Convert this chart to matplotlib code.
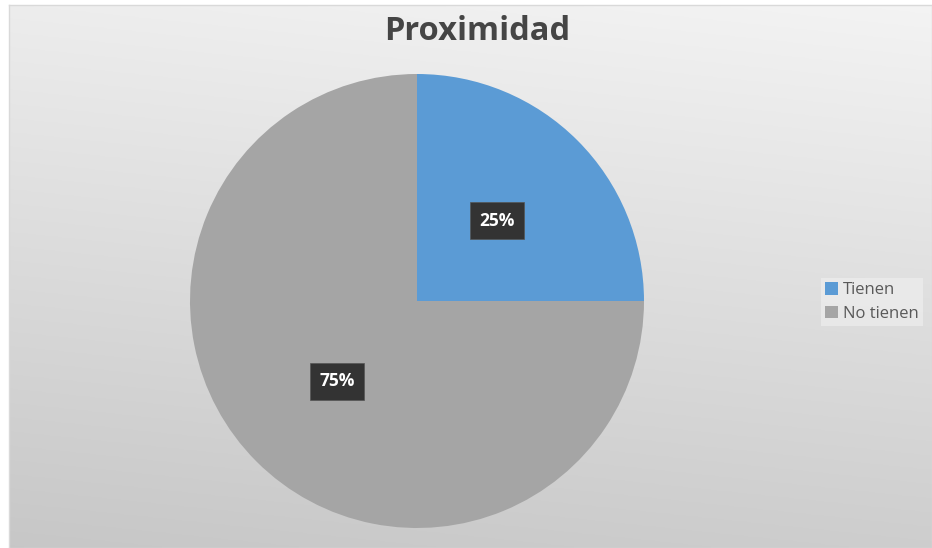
import matplotlib.pyplot as plt
import numpy as np
from matplotlib.patches import Patch

# datos del grafico
categorias = ['Tienen', 'No tienen']
valores = [25, 75]
colores = ['#5b9bd5', '#a5a5a5']
titulo = 'Proximidad'

plt.rcParams['font.family'] = ['Open Sans', 'DejaVu Sans']

fig = plt.figure(figsize=(9.32, 5.48), dpi=100)
fig.patch.set_facecolor('white')

# fondo con degradado (area del grafico)
bg = fig.add_axes([9/932, 0, 1 - 9/932, 1 - 5/548])
yy, xx = np.mgrid[0:1:200j, 0:1:300j]
t = 0.85*yy + 0.15*(1 - xx)
top = np.array([0.955, 0.955, 0.955])
bot = np.array([0.78, 0.78, 0.78])
img = top[None, None, :]*(1 - t[..., None]) + bot[None, None, :]*t[..., None]
bg.imshow(img, aspect='auto', extent=[0, 1, 1, 0])
bg.set_xticks([])
bg.set_yticks([])
for s in bg.spines.values():
    s.set_color('#d9d9d9')
    s.set_linewidth(1)

# torta
ax = fig.add_axes([190/932, 20/548, 454/932, 454/548])
wedges, textos, autotextos = ax.pie(valores, colors=colores, startangle=90, counterclock=False,
                                    autopct='%1.0f%%', pctdistance=0.5, radius=1,
                                    wedgeprops=dict(linewidth=0))
for a in autotextos:
    a.set_color('white')
    a.set_fontweight('bold')
    a.set_fontsize(12.5)
    a.set_bbox(dict(boxstyle='square,pad=0.55', facecolor='#333333', edgecolor='#555555', linewidth=0.5))
ax.set_xlim(-1, 1)
ax.set_ylim(-1, 1)
ax.set_aspect('equal')
ax.axis('off')

fig.text(477/932, 1 - 31/548, titulo, ha='center', va='center', fontsize=23.5,
         fontweight='bold', color='#454545')

# leyenda
handles = [Patch(facecolor=c, edgecolor='none') for c in colores]
leg = fig.legend(handles, categorias, loc='center left', bbox_to_anchor=(821/932, 1 - 302/548),
                 fontsize=12, frameon=True, fancybox=False, handlelength=0.75, handleheight=0.75,
                 handletextpad=0.3, labelspacing=0.45, borderpad=0.25, borderaxespad=0)
leg.get_frame().set_facecolor('#ececec')
leg.get_frame().set_edgecolor('none')
for txt in leg.get_texts():
    txt.set_color('#595959')

fig.savefig('out.png', dpi=100)
